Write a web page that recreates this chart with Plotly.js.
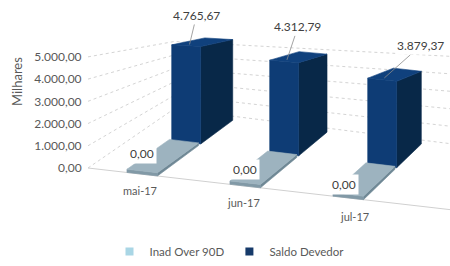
<!DOCTYPE html>
<html>
<head>
<meta charset="utf-8">
<script src="https://cdn.plot.ly/plotly-3.0.1.min.js"></script>
<style>
  html, body { margin: 0; padding: 0; background: #ffffff; }
  #chart { width: 450px; height: 266px; }
</style>
</head>
<body>
<div id="chart"></div>
<script>
// ---------------- data ----------------
var categories = ['mai-17', 'jun-17', 'jul-17'];
var seriesNames = ['Inad Over 90D', 'Saldo Devedor'];
var inadValues = [0, 0, 0];
var saldoValues = [4765.67, 4312.79, 3879.37];
var valueTicks = [0, 1000, 2000, 3000, 4000, 5000];
var valueTickLabels = ['0,00', '1.000,00', '2.000,00', '3.000,00', '4.000,00', '5.000,00'];
var inadLabels = ['0,00', '0,00', '0,00'];
var saldoLabels = ['4.765,67', '4.312,79', '3.879,37'];

// ---------------- faux-3D projection (style constants) ----------------
var P = {
  px0: 142.2, ux: 103, uxd: 5, dx: 44,
  floorY: 168, floorX: 88, slope: 0.115, dy: 32, kd: 0.00474,
  kc: [-0.53, -0.15, 0.85, 1.85, 3.2],
  kv: [0.0222, 0.0248, 0.0261, 0.0269, 0.0273],
  Y0: 168, S: 0.0222, W: 450, H: 266
};
function kf(c) {
  var a = P.kc, b = P.kv;
  if (c <= a[0]) return b[0];
  for (var i = 1; i < a.length; i++) {
    if (c <= a[i]) return b[i - 1] + (b[i] - b[i - 1]) * (c - a[i - 1]) / (a[i] - a[i - 1]);
  }
  return b[b.length - 1];
}
// (category position, depth, value) -> axis coordinates
function proj(c, d, v) {
  var pxf = P.px0 + c * P.ux;
  var px = P.px0 + c * (P.ux - P.uxd * d) + d * P.dx;
  var py = P.floorY + (pxf - P.floorX) * P.slope - d * P.dy - v * (kf(c) - P.kd * d);
  return [px, (P.Y0 - py) / P.S];
}

var BAR_W = 0.296;
var MIN_V = 130;                 // drawn thickness for zero-value slabs
var C_LEFT = (P.floorX - P.px0) / P.ux;
var C_RIGHT = 3.2;
var D_BACK = 1.85;
var rows = [
  { d0: 0.0, d1: 0.95, values: inadValues, front: '#8199a6', side: '#6f8895', top: '#9db3bf', legend: '#a9d6e5' },
  { d0: 1.0, d1: 1.74, values: saldoValues, front: '#0e3c75', side: '#082848', top: '#10417d', legend: '#163a6a' }
];

var traces = [];
function poly(points, color) {
  var xs = [], ys = [];
  points.forEach(function (p) { var q = proj(p[0], p[1], p[2]); xs.push(q[0]); ys.push(q[1]); });
  xs.push(xs[0]); ys.push(ys[0]);
  traces.push({
    type: 'scatter', mode: 'lines', x: xs, y: ys, fill: 'toself', fillcolor: color,
    line: { color: color, width: 0.6 }, showlegend: false, hoverinfo: 'skip'
  });
}
function polyline(points, color, dash, width) {
  var xs = [], ys = [];
  points.forEach(function (p) { var q = proj(p[0], p[1], p[2]); xs.push(q[0]); ys.push(q[1]); });
  traces.push({
    type: 'scatter', mode: 'lines', x: xs, y: ys,
    line: { color: color, width: width, dash: dash }, showlegend: false, hoverinfo: 'skip'
  });
}

// walls: gridlines for each value tick on left wall and back wall
valueTicks.forEach(function (v) {
  polyline([[C_LEFT, 0, v], [C_LEFT, D_BACK, v], [C_RIGHT, D_BACK, v]], '#d4d4d4', 'dot', 1);
});
// floor front edge
polyline([[C_LEFT, 0, 0], [C_RIGHT, 0, 0]], '#d0d0d0', 'solid', 1);

function drawBox(c, row, v) {
  var x0 = c - BAR_W / 2, x1 = c + BAR_W / 2, d0 = row.d0, d1 = row.d1;
  poly([[x1, d0, 0], [x1, d1, 0], [x1, d1, v], [x1, d0, v]], row.side);
  poly([[x0, d0, 0], [x1, d0, 0], [x1, d0, v], [x0, d0, v]], row.front);
  poly([[x0, d0, v], [x1, d0, v], [x1, d1, v], [x0, d1, v]], row.top);
}
// back row first, then front row
[1, 0].forEach(function (r) {
  rows[r].values.forEach(function (val, c) { drawBox(c, rows[r], Math.max(val, MIN_V)); });
});

// legend proxies
seriesNames.forEach(function (n, s) {
  traces.push({
    type: 'scatter', mode: 'markers', x: [null], y: [null], name: n,
    marker: { symbol: 'square', size: 8, color: rows[s].legend }, hoverinfo: 'skip'
  });
});

// annotations
var labelFont = { family: 'Lato, sans-serif', size: 12, color: '#404040' };
var annotations = [];
var saldoOffsets = [[7, -29], [11, -33], [36, -32]];
saldoValues.forEach(function (v, c) {
  var q = proj(c - 0.02, rows[1].d0 + 0.12, v);
  annotations.push({
    x: q[0], y: q[1], xref: 'x', yref: 'y', text: saldoLabels[c],
    showarrow: true, arrowhead: 0, arrowwidth: 0.8, arrowcolor: '#8c8c8c', standoff: 0,
    ax: saldoOffsets[c][0], ay: saldoOffsets[c][1], bgcolor: '#ffffff', borderpad: 1, font: labelFont
  });
});
var inadShifts = [[15, 16], [15, 11], [11, 8]];
inadValues.forEach(function (v, c) {
  var q = proj(c - BAR_W / 2, rows[0].d0, Math.max(v, MIN_V));
  annotations.push({
    x: q[0], y: q[1], xref: 'x', yref: 'y', text: inadLabels[c], showarrow: false,
    xshift: inadShifts[c][0], yshift: inadShifts[c][1], bgcolor: '#ffffff', borderpad: 2, font: labelFont
  });
});
var catShifts = [[-2, -16], [-2, -16], [6, -19]];
categories.forEach(function (name, c) {
  var q = proj(c, 0, 0);
  annotations.push({
    x: q[0], y: q[1], xref: 'x', yref: 'y', text: name, showarrow: false,
    xshift: catShifts[c][0], yshift: catShifts[c][1],
    font: { family: 'Lato, sans-serif', size: 11, color: '#595959' }
  });
});
annotations.push({
  xref: 'paper', yref: 'paper', x: 17 / P.W, y: 1 - 82 / P.H, xanchor: 'center', yanchor: 'middle',
  text: 'Milhares', textangle: -90, showarrow: false,
  font: { family: 'Lato, sans-serif', size: 13, color: '#595959' }
});

var layout = {
  width: P.W, height: P.H,
  margin: { l: 0, r: 0, t: 0, b: 0 },
  paper_bgcolor: '#ffffff', plot_bgcolor: 'rgba(0,0,0,0)',
  font: { family: 'Lato, sans-serif', color: '#595959' },
  showlegend: true,
  legend: {
    orientation: 'h', x: 0.51, xanchor: 'center', y: 0.0, yanchor: 'bottom',
    font: { size: 11.5, color: '#595959' }, bgcolor: 'rgba(0,0,0,0)', itemwidth: 30,
    tracegroupgap: 0
  },
  xaxis: { range: [0, P.W], visible: false, fixedrange: true, domain: [0, 1] },
  yaxis: {
    range: [(P.Y0 - P.H) / P.S, P.Y0 / P.S], anchor: 'free', position: P.floorX / P.W,
    tickvals: valueTicks, ticktext: valueTickLabels, showgrid: false, zeroline: false,
    showline: false, ticks: 'outside', ticklen: 4, tickcolor: 'rgba(0,0,0,0)',
    tickfont: { family: 'Lato, sans-serif', size: 12, color: '#595959' }, fixedrange: true
  },
  annotations: annotations
};

Plotly.newPlot('chart', traces, layout, { displayModeBar: false, staticPlot: true });
</script>
</body>
</html>
